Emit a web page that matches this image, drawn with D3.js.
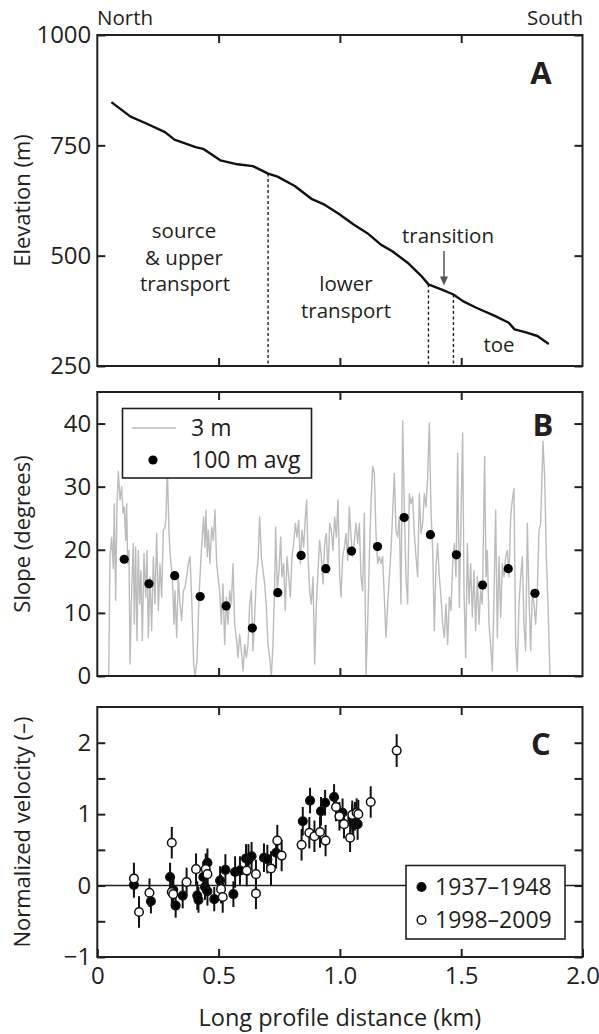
<!DOCTYPE html>
<html>
<head>
<meta charset="utf-8">
<script src="https://cdnjs.cloudflare.com/ajax/libs/d3/7.8.5/d3.min.js"></script>
<style>
  body { margin: 0; background: #fff; }
  svg text { font-family: "Open Sans", sans-serif; fill: #231f20; }
</style>
</head>
<body>
<div id="root"></div>
<script>
// ---- panel A: long profile elevation (km, m)
var elevDist = [0.058, 0.137, 0.200, 0.279, 0.318, 0.405, 0.436, 0.507, 0.578, 0.641, 0.704, 0.743,
  0.814, 0.885, 0.932, 0.995, 1.058, 1.113, 1.169, 1.216, 1.279, 1.334, 1.365, 1.420, 1.468,
  1.507, 1.562, 1.641, 1.696, 1.720, 1.767, 1.814, 1.861]
var elevVal = [848, 815, 800, 780, 763, 746, 742, 716, 707, 703, 686, 679,
  658, 628, 617, 595, 570, 551, 525, 510, 484, 455, 435, 423, 412,
  397, 382, 363, 348, 333, 326, 318, 300]
var zoneBreaks = [0.704, 1.365, 1.468]

// ---- panel B: slope, 3 m profile (km, degrees)
var slopeDist = [0.047, 0.0523, 0.0592, 0.0661, 0.0702, 0.0757, 0.0812, 0.0867, 0.0936, 0.1004, 0.1059,
  0.1114, 0.1169, 0.1210, 0.1252, 0.1306, 0.1348, 0.1416, 0.1485, 0.1526, 0.1581, 0.1636, 0.1691,
  0.1746, 0.1801, 0.1856, 0.1925, 0.1993, 0.2048, 0.2103, 0.2172, 0.2241, 0.2310, 0.2378, 0.2447,
  0.2516, 0.2584, 0.2653, 0.2722, 0.2790, 0.2832, 0.2887, 0.2955, 0.3010, 0.3093, 0.3161, 0.3203,
  0.3271, 0.3340, 0.3409, 0.3477, 0.3546, 0.3615, 0.3684, 0.3752, 0.3821, 0.3890, 0.3972, 0.4027,
  0.4109, 0.4192, 0.4274, 0.4329, 0.4384, 0.4439, 0.4480, 0.4535, 0.4577, 0.4645, 0.4714, 0.4783,
  0.4851, 0.4920,
  0.5044, 0.5113, 0.5181, 0.5250, 0.5319, 0.5387, 0.5456, 0.5525, 0.5594, 0.5662, 0.5731, 0.5800,
  0.5868, 0.5937, 0.6006, 0.6074, 0.6143, 0.6212, 0.6281, 0.6349, 0.6418, 0.6487, 0.6555, 0.6624,
  0.6693, 0.6761, 0.6830, 0.6899, 0.6968, 0.7036, 0.7105, 0.7174, 0.7242, 0.7311, 0.7352, 0.7421,
  0.7490, 0.7558, 0.7613, 0.7682, 0.7751, 0.7820, 0.7888, 0.7957, 0.8026, 0.8094, 0.8163, 0.8232,
  0.8300, 0.8369, 0.8438, 0.8507, 0.8575, 0.8630, 0.8685, 0.8754, 0.8822, 0.8891, 0.8960, 0.9028,
  0.9097, 0.9166, 0.9235, 0.9303, 0.9372, 0.9441, 0.9509, 0.9578, 0.9647, 0.9715, 0.9784, 0.9853,
  0.9922, 0.9990,
  1.0045, 1.0114, 1.0183, 1.0251, 1.0320, 1.0389, 1.0457, 1.0526, 1.0595, 1.0664, 1.0732, 1.0801,
  1.0870, 1.0938, 1.1007, 1.1076, 1.1144, 1.1213, 1.1282, 1.1351, 1.1419, 1.1488, 1.1557, 1.1625,
  1.1694, 1.1763, 1.1831, 1.1900, 1.1969, 1.2038, 1.2106, 1.2175, 1.2244, 1.2312, 1.2381, 1.2450,
  1.2518, 1.2587, 1.2656, 1.2725, 1.2793, 1.2862, 1.2931, 1.2999, 1.3068, 1.3137, 1.3205, 1.3274,
  1.3343, 1.3412, 1.3480, 1.3549, 1.3618, 1.3686, 1.3755, 1.3824, 1.3892, 1.3961, 1.4030, 1.4099,
  1.4167, 1.4236, 1.4305, 1.4373, 1.4442, 1.4511, 1.4579, 1.4648, 1.4717, 1.4786, 1.4854, 1.4923,
  1.4992, 1.5060,
  1.5115, 1.5184, 1.5253, 1.5321, 1.5390, 1.5459, 1.5527, 1.5596, 1.5665, 1.5733, 1.5802, 1.5871,
  1.5967, 1.6022, 1.6077, 1.6146, 1.6214, 1.6283, 1.6352, 1.6420, 1.6489, 1.6558, 1.6627, 1.6695,
  1.6764, 1.6833, 1.6901, 1.6970, 1.7039, 1.7107, 1.7176, 1.7245, 1.7314, 1.7382, 1.7451, 1.7520,
  1.7588, 1.7657, 1.7726, 1.7794, 1.7863, 1.7932, 1.8001, 1.8069, 1.8138, 1.8207, 1.8275, 1.8371,
  1.8440, 1.8509, 1.8578, 1.8660]
var slopeVal = [0, 18.9, 22, 17, 27.3, 12, 27, 32.4, 27.9, 30, 25.8,
  26.8, 21.5, 27.3, 17.8, 19.9, 1.9, 13.5, 21, 8.2, 20.4, 5.6, 19.9,
  11.4, 16.7, 5.6, 19.4, 12.5, 19.9, 6.1, 15.7, 7.2, 18.9, 11.4, 22.6,
  10.4, 17.8, 12.5, 23.1, 23.6, 25.2, 33, 22.6, 18.9, 15.7, 8.2, 13.5,
  6.1, 15.7, 11.4, 8.8, 13.5, 14, 15.7, 17.8, 18.9, 12.5, 1.9, 0,
  2.4, 12.5, 18.9, 22, 25.2, 20.4, 26.3, 18.9, 23.1, 17.8, 23.6, 21.5,
  26.3, 17.8,
  13.5, 8.2, 14.6, 5.0, 12.5, 8.2, 13.5, 11.4, 17.8, 8.2, 6.1, 2.9,
  6.6, 4.0, 0.8, 5.0, 2.9, 5.0, 11.4, 13.5, 4.0, 9.3, 15.7, 18.3,
  25.2, 18.9, 16.7, 14.6, 10.9, 5.0, 2.9, 0, 5.0, 14.6, 23.6, 13.5,
  16.7, 22, 15.7, 17.8, 10.4, 18.9, 15.7, 12.5, 18.9, 21, 24.2, 22,
  24.7, 17.8, 23.1, 20.4, 25.2, 27.9, 18.9, 13.5, 11.4, 15.7, 1.9, 10.9,
  16.7, 21.5, 18.9, 14.6, 21, 22.6, 16.2, 24.2, 23.1, 19.9, 25.2, 22,
  27.9, 15.7,
  12.5, 18.9, 20.4, 22.6, 18.3, 26.8, 22, 18.9, 21.5, 24.2, 21, 24.2,
  15.7, 13.5, 25.8, 0, 8.2, 18.9, 27.3, 33.2, 32.1, 22.6, 17.8, 18.9,
  17.8, 18.9, 12.5, 6.1, 11.4, 15.7, 19.9, 25.8, 32.1, 23.1, 22, 25.2,
  11.4, 40.4, 26.3, 15.7, 11.4, 28.9, 27.3, 28.4, 22.6, 18.9, 15.7, 28.9,
  22.6, 24.2, 28.9, 26.8, 31.6, 40.1, 26.3, 19.9, 7.2, 17.3, 21, 15.7,
  12.5, 8.2, 6.1, 11.4, 5.0, 12.5, 10.4, 17.8, 21, 15.7, 35.3, 10.9,
  25.2, 38.5,
  13.5, 2.9, 21, 11.4, 17.8, 9.3, 16.7, 7.2, 15.7, 8.2, 13.5, 11.4,
  34.8, 15.7, 19.9, 8.2, 5.0, 0.8, 12.5, 26.3, 6.1, 18.9, 9.3, 17.8,
  15.7, 18.9, 19.9, 15.7, 25.2, 27.9, 29.7, 5.0, 0.8, 11.4, 15.7, 18.9,
  8.2, 4.0, 24.2, 12.5, 4.0, 13.5, 11.4, 8.2, 13.5, 23.1, 24.2, 37.2,
  31.6, 18.9, 11.4, 0]

// ---- panel B: 100 m averages
var avgDist = [0.111, 0.213, 0.319, 0.424, 0.531, 0.639, 0.744, 0.840, 0.942, 1.048, 1.155,
  1.265, 1.373, 1.480, 1.588, 1.694, 1.804]
var avgVal = [18.5, 14.6, 15.9, 12.6, 11.1, 7.6, 13.2, 19.1, 17.0, 19.8, 20.5,
  25.1, 22.4, 19.2, 14.4, 17.0, 13.1]

// ---- panel C: normalized velocity, 1937-1948 (filled)
var oldDist = [0.151, 0.221, 0.300, 0.313, 0.323, 0.352, 0.412, 0.417, 0.437, 0.454, 0.444, 0.454,
  0.482, 0.506, 0.528, 0.561, 0.568, 0.588, 0.613, 0.623, 0.636, 0.687, 0.701, 0.737,
  0.847, 0.877, 0.922, 0.939, 0.976, 1.011, 1.051, 1.055, 1.062, 1.073]
var oldVel = [0.01, -0.22, 0.12, -0.06, -0.28, -0.14, -0.14, -0.20, 0.12, 0.32, -0.02, -0.08,
  -0.19, 0.07, 0.22, -0.12, 0.19, 0.21, 0.38, 0.36, 0.41, 0.39, 0.37, 0.46,
  0.90, 1.19, 1.04, 1.16, 1.24, 1.02, 0.94, 0.88, 0.97, 0.86]
var oldErr = [0.18, 0.17, 0.20, 0.18, 0.17, 0.18, 0.20, 0.18, 0.22, 0.20, 0.18, 0.20,
  0.17, 0.20, 0.22, 0.18, 0.22, 0.20, 0.20, 0.22, 0.20, 0.20, 0.20, 0.22,
  0.20, 0.18, 0.20, 0.18, 0.18, 0.20, 0.20, 0.20, 0.20, 0.22]

// ---- panel C: normalized velocity, 1998-2009 (open)
var newDist = [0.151, 0.172, 0.215, 0.307, 0.307, 0.313, 0.368, 0.407, 0.447, 0.454, 0.510, 0.517,
  0.616, 0.654, 0.654, 0.716, 0.742, 0.760, 0.842, 0.874, 0.895, 0.918, 0.941,
  0.984, 0.998, 1.017, 1.042, 1.051, 1.069, 1.076, 1.127, 1.234]
var newVel = [0.10, -0.37, -0.10, 0.60, -0.09, -0.12, 0.05, 0.23, 0.23, 0.16, -0.05, -0.16,
  0.21, 0.16, -0.11, 0.24, 0.63, 0.42, 0.57, 0.74, 0.69, 0.75, 0.63,
  1.10, 0.97, 0.86, 0.67, 0.99, 1.02, 1.00, 1.17, 1.89]
var newErr = [0.22, 0.22, 0.20, 0.22, 0.20, 0.20, 0.20, 0.22, 0.22, 0.20, 0.20, 0.22,
  0.22, 0.20, 0.22, 0.24, 0.22, 0.22, 0.22, 0.22, 0.22, 0.22, 0.22,
  0.20, 0.20, 0.20, 0.20, 0.20, 0.20, 0.20, 0.22, 0.23]

var xTicks = [0, 0.5, 1, 1.5, 2]
var xTickLabels = ['0', '0.5', '1.0', '1.5', '2.0']

var width = 599, height = 1034
var ink = '#231f20'
var svg = d3.select('#root').append('svg')
    .attr('width', width)
    .attr('height', height)

var x = d3.scaleLinear().domain([0, 2]).range([97.3, 582.5])
var yA = d3.scaleLinear().domain([250, 1000]).range([366, 35])
var yB = d3.scaleLinear().domain([0, 45]).range([676, 392])
var yC = d3.scaleLinear().domain([-1, 2.5]).range([957, 707])

function styleAxis(g, size) {
    g.select('.domain').remove()
    g.selectAll('.tick line').attr('stroke', ink).attr('stroke-width', 2)
    g.selectAll('.tick text').attr('fill', ink)
    g.attr('font-family', '"Open Sans", sans-serif').attr('font-size', size)
}

// frame with inward ticks on all four sides
function drawFrame(y, yTicks, yFormat, withXLabels) {
    var g = svg.append('g')
    var x0 = x.range()[0], x1 = x.range()[1]
    var yb = y.range()[0], yt = y.range()[1]
    g.append('g').attr('transform', 'translate(' + x0 + ',0)')
        .call(d3.axisLeft(y).tickValues(yTicks).tickSize(-8).tickPadding(6).tickFormat(yFormat))
        .call(styleAxis, 24)
    g.append('g').attr('transform', 'translate(' + x1 + ',0)')
        .call(d3.axisRight(y).tickValues(yTicks).tickSize(-8).tickFormat(''))
        .call(styleAxis, 24)
    g.append('g').attr('transform', 'translate(0,' + yt + ')')
        .call(d3.axisTop(x).tickValues([0.5, 1, 1.5]).tickSize(-8).tickFormat(''))
        .call(styleAxis, 24)
    var bottom = d3.axisBottom(x).tickSize(-8).tickPadding(10)
    if (withXLabels) {
        bottom.tickValues(xTicks).tickFormat(function (d, i) { return xTickLabels[i] })
    } else {
        bottom.tickValues([0.5, 1, 1.5]).tickFormat('')
    }
    g.append('g').attr('transform', 'translate(0,' + yb + ')')
        .call(bottom)
        .call(styleAxis, 24)
    g.append('rect')
        .attr('x', x0).attr('y', yt)
        .attr('width', x1 - x0).attr('height', yb - yt)
        .attr('fill', 'none').attr('stroke', ink).attr('stroke-width', 2)
    return g
}

function yTitle(text, y) {
    var cy = (y.range()[0] + y.range()[1]) / 2
    svg.append('text')
        .attr('transform', 'translate(30,' + cy + ') rotate(-90)')
        .attr('text-anchor', 'middle')
        .attr('font-size', 22)
        .text(text)
}

function panelLetter(letter, px, py) {
    svg.append('text')
        .attr('x', px).attr('y', py)
        .attr('text-anchor', 'middle')
        .attr('font-family', '"Liberation Sans", Arial, sans-serif')
        .attr('font-weight', 'bold')
        .attr('font-size', 31)
        .text(letter)
}

var intFmt = function (d) { return d }

// ================= panel A
var lineA = d3.line().x(function (d) { return x(d[0]) }).y(function (d) { return yA(d[1]) })
var elevPts = d3.zip(elevDist, elevVal)
var elevAt = function (km) {
    var i = d3.bisectLeft(elevDist, km)
    i = Math.max(1, Math.min(elevDist.length - 1, i))
    var t = (km - elevDist[i - 1]) / (elevDist[i] - elevDist[i - 1])
    return elevVal[i - 1] + t * (elevVal[i] - elevVal[i - 1])
}

svg.append('g').selectAll('line')
    .data(zoneBreaks)
    .enter()
    .append('line')
    .attr('x1', function (d) { return x(d) })
    .attr('x2', function (d) { return x(d) })
    .attr('y1', function (d) { return yA(elevAt(d)) })
    .attr('y2', yA(250))
    .attr('stroke', ink)
    .attr('stroke-width', 1.4)
    .attr('stroke-dasharray', '3,2.5')

svg.append('path')
    .attr('d', lineA(elevPts))
    .attr('fill', 'none')
    .attr('stroke', '#111')
    .attr('stroke-width', 2.4)
    .attr('stroke-linejoin', 'round')

drawFrame(yA, [250, 500, 750, 1000], intFmt, false)
yTitle('Elevation (m)', yA)
panelLetter('A', 541, 84)

svg.append('text').attr('x', 97).attr('y', 25).attr('font-size', 20.5).text('North')
svg.append('text').attr('x', 583).attr('y', 25).attr('font-size', 20.5).attr('text-anchor', 'end').text('South')

var notes = [
    { t: 'source', x: 184, y: 231 },
    { t: '& upper', x: 184, y: 258 },
    { t: 'transport', x: 185, y: 284 },
    { t: 'lower', x: 346, y: 284 },
    { t: 'transport', x: 346, y: 311 },
    { t: 'transition', x: 448, y: 236 },
    { t: 'toe', x: 499, y: 345 }
]
svg.append('g').selectAll('text')
    .data(notes)
    .enter()
    .append('text')
    .attr('x', function (d) { return d.x })
    .attr('y', function (d) { return d.y })
    .attr('dy', '0.35em')
    .attr('text-anchor', 'middle')
    .attr('font-size', 20.5)
    .text(function (d) { return d.t })

// arrow down to the transition zone
var arrowKm = 1.429
var tipY = yA(elevAt(arrowKm)) - 5
svg.append('line')
    .attr('x1', x(arrowKm)).attr('x2', x(arrowKm))
    .attr('y1', 251).attr('y2', tipY - 6)
    .attr('stroke', '#555').attr('stroke-width', 1.5)
svg.append('path')
    .attr('d', 'M' + (x(arrowKm) - 4) + ',' + (tipY - 9) + 'L' + (x(arrowKm) + 4) + ',' + (tipY - 9) + 'L' + x(arrowKm) + ',' + tipY + 'Z')
    .attr('fill', '#555')

// ================= panel B
var lineB = d3.line().x(function (d) { return x(d[0]) }).y(function (d) { return yB(d[1]) })
svg.append('path')
    .attr('d', lineB(d3.zip(slopeDist, slopeVal)))
    .attr('fill', 'none')
    .attr('stroke', '#bcbcbc')
    .attr('stroke-width', 1.4)
    .attr('stroke-linejoin', 'round')

svg.append('g').selectAll('circle')
    .data(d3.zip(avgDist, avgVal))
    .enter()
    .append('circle')
    .attr('cx', function (d) { return x(d[0]) })
    .attr('cy', function (d) { return yB(d[1]) })
    .attr('r', 4.6)
    .attr('fill', '#000')

drawFrame(yB, [0, 10, 20, 30, 40], intFmt, false)
yTitle('Slope (degrees)', yB)
panelLetter('B', 543, 436)

var legB = svg.append('g')
legB.append('rect').attr('x', 122.5).attr('y', 408.5).attr('width', 189).attr('height', 69.5)
    .attr('fill', '#fff').attr('stroke', ink).attr('stroke-width', 1.6)
legB.append('line').attr('x1', 132).attr('x2', 176).attr('y1', 428).attr('y2', 428)
    .attr('stroke', '#bcbcbc').attr('stroke-width', 1.6)
legB.append('circle').attr('cx', 153).attr('cy', 460).attr('r', 4.6).attr('fill', '#000')
legB.append('text').attr('x', 191).attr('y', 428).attr('dy', '0.35em').attr('font-size', 23).text('3 m')
legB.append('text').attr('x', 191).attr('y', 460).attr('dy', '0.35em').attr('font-size', 23).text('100 m avg')

// ================= panel C
svg.append('line')
    .attr('x1', x(0)).attr('x2', x(2))
    .attr('y1', yC(0)).attr('y2', yC(0))
    .attr('stroke', ink).attr('stroke-width', 1.6)

function drawSeries(dist, vel, err, filled) {
    var pts = dist.map(function (d, i) { return { d: d, v: vel[i], e: err[i] } })
    var g = svg.append('g')
    g.selectAll('line')
        .data(pts)
        .enter()
        .append('line')
        .attr('x1', function (p) { return x(p.d) })
        .attr('x2', function (p) { return x(p.d) })
        .attr('y1', function (p) { return yC(p.v - p.e) })
        .attr('y2', function (p) { return yC(p.v + p.e) })
        .attr('stroke', '#111')
        .attr('stroke-width', 2)
    g.selectAll('circle')
        .data(pts)
        .enter()
        .append('circle')
        .attr('cx', function (p) { return x(p.d) })
        .attr('cy', function (p) { return yC(p.v) })
        .attr('r', 4.3)
        .attr('fill', filled ? '#000' : '#fff')
        .attr('stroke', '#111')
        .attr('stroke-width', 1.5)
}
drawSeries(oldDist, oldVel, oldErr, true)
drawSeries(newDist, newVel, newErr, false)

drawFrame(yC, [-1, -0.5, 0, 0.5, 1, 1.5, 2], function (d) {
    if (d % 1 !== 0) return ''
    return d < 0 ? '\u2212' + (-d) : d
}, true)
yTitle('Normalized velocity (\u2013)', yC)
panelLetter('C', 541, 755)

svg.append('text')
    .attr('x', (x(0) + x(2)) / 2).attr('y', 1018).attr('dy', '0.35em')
    .attr('text-anchor', 'middle').attr('font-size', 23.5)
    .text('Long profile distance (km)')

var legC = svg.append('g')
legC.append('rect').attr('x', 406).attr('y', 865.5).attr('width', 159).attr('height', 73.5)
    .attr('fill', '#fff').attr('stroke', ink).attr('stroke-width', 1.6)
legC.append('circle').attr('cx', 421.5).attr('cy', 887).attr('r', 4.3).attr('fill', '#000').attr('stroke', '#111').attr('stroke-width', 1.5)
legC.append('circle').attr('cx', 421.5).attr('cy', 920).attr('r', 4.3).attr('fill', '#fff').attr('stroke', '#111').attr('stroke-width', 1.5)
legC.append('text').attr('x', 435).attr('y', 887).attr('dy', '0.35em').attr('font-size', 23).text('1937\u20131948')
legC.append('text').attr('x', 435).attr('y', 920).attr('dy', '0.35em').attr('font-size', 23).text('1998\u20132009')
</script>
</body>
</html>
